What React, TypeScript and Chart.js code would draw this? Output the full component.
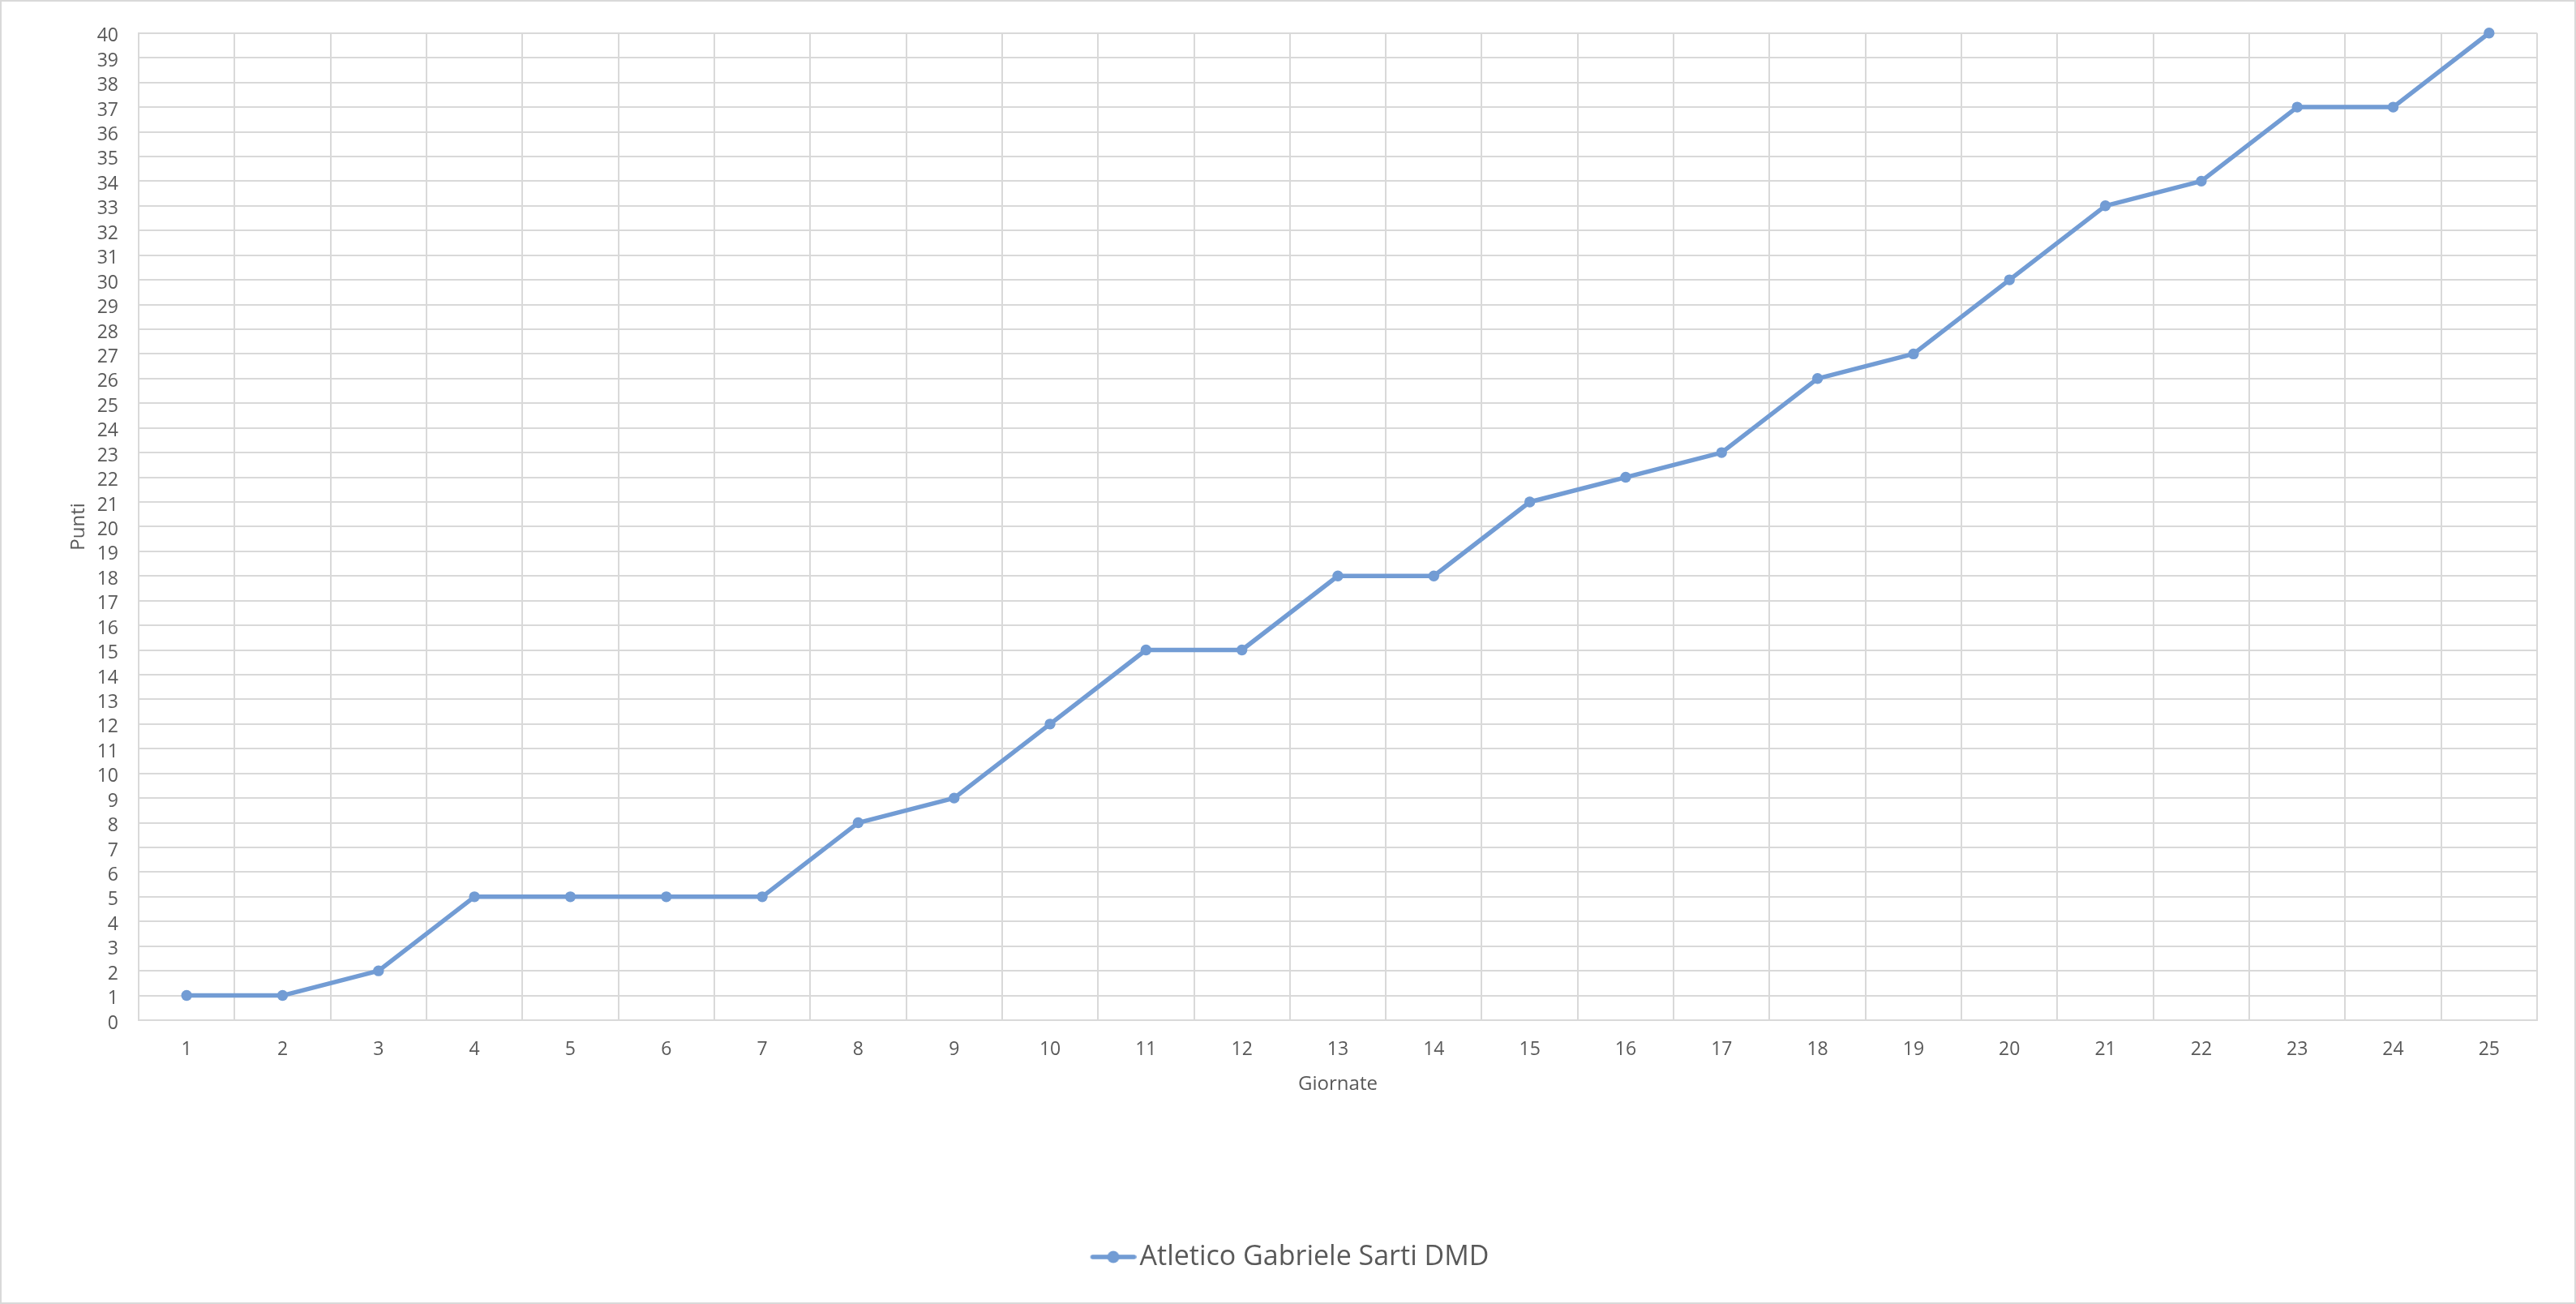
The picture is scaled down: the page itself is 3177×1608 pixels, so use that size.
import React, { useEffect, useRef } from "react";
import { Chart, registerables } from "chart.js";

Chart.register(...registerables);

const giornate: string[] = [
  "1", "2", "3", "4", "5", "6", "7", "8", "9", "10", "11", "12", "13",
  "14", "15", "16", "17", "18", "19", "20", "21", "22", "23", "24", "25",
];
const punti: number[] = [
  1, 1, 2, 5, 5, 5, 5, 8, 9, 12, 15, 15, 18, 18, 21, 22, 23, 26, 27, 30, 33, 34, 37, 37, 40,
];
const seriesName = "Atletico Gabriele Sarti DMD";
const xTitle = "Giornate";
const yTitle = "Punti";
const yMin = 0;
const yMax = 40;
const yStep = 1;

const LINE_COLOR = "rgb(114,156,212)";
const GRID_COLOR = "#d9d9d9";
const TEXT_COLOR = "#595959";
const FONT = "'Open Sans', 'DejaVu Sans', sans-serif";

const LEGEND_BOX_W = 94;

function makeLegendIcon(): HTMLCanvasElement {
  const wi = LEGEND_BOX_W + 26;
  const c = document.createElement("canvas");
  c.width = wi;
  c.height = 18;
  const g = c.getContext("2d")!;
  const x0 = wi - 57;
  const x1 = wi;
  g.strokeStyle = LINE_COLOR;
  g.lineWidth = 5.5;
  g.lineCap = "round";
  g.beginPath();
  g.moveTo(x0 + 3, 9);
  g.lineTo(x1 - 3, 9);
  g.stroke();
  g.fillStyle = LINE_COLOR;
  g.beginPath();
  g.arc((x0 + x1) / 2, 9, 7.5, 0, Math.PI * 2);
  g.fill();
  return c;
}

export default function App() {
  const ref = useRef<HTMLCanvasElement | null>(null);

  useEffect(() => {
    document.body.style.margin = "0";
    if (!ref.current) return;
    const icon = makeLegendIcon();
    const chart = new Chart(ref.current, {
      type: "line",
      data: {
        labels: giornate,
        datasets: [
          {
            label: seriesName,
            data: punti,
            borderColor: LINE_COLOR,
            backgroundColor: LINE_COLOR,
            borderWidth: 5.5,
            pointRadius: 6.7,
            pointHoverRadius: 6.7,
            pointBorderWidth: 0,
            pointBackgroundColor: LINE_COLOR,
            tension: 0,
            fill: false,
            clip: false as any,
            borderJoinStyle: "round",
            borderCapStyle: "round",
          },
        ],
      },
      options: {
        animation: false,
        responsive: false,
        maintainAspectRatio: false,
        layout: { padding: { top: 35, right: 46, left: 0, bottom: 29 } },
        plugins: {
          tooltip: { enabled: false },
          legend: {
            position: "bottom",
            labels: {
              usePointStyle: true,
              pointStyle: icon as any,
              pointStyleWidth: LEGEND_BOX_W,
              padding: 10,
              color: TEXT_COLOR,
              font: { family: FONT, size: 34 },
            },
          },
        },
        scales: {
          x: {
            type: "category",
            offset: true,
            grid: {
              offset: true,
              color: GRID_COLOR,
              lineWidth: 2,
              drawTicks: false,
            },
            border: { color: GRID_COLOR, width: 2 },
            ticks: {
              color: TEXT_COLOR,
              font: { family: FONT, size: 23 },
              padding: 23,
              autoSkip: false,
              maxRotation: 0,
            },
            title: {
              display: true,
              text: xTitle,
              color: TEXT_COLOR,
              font: { family: FONT, size: 24 },
              padding: { top: 0, bottom: 171 },
            },
            afterFit: (s: any) => {
              s.height = 265;
            },
          },
          y: {
            min: yMin,
            max: yMax,
            grid: {
              color: GRID_COLOR,
              lineWidth: 2,
              drawTicks: false,
            },
            border: { color: GRID_COLOR, width: 2 },
            ticks: {
              stepSize: yStep,
              autoSkip: false,
              color: TEXT_COLOR,
              font: { family: FONT, size: 23 },
              padding: 25,
              labelOffset: 4,
            },
            title: {
              display: true,
              text: yTitle,
              color: TEXT_COLOR,
              font: { family: FONT, size: 24 },
              padding: { top: 81, bottom: 0 },
            },
            afterFit: (s: any) => {
              s.width = 169;
            },
          },
        },
      },
    });
    return () => chart.destroy();
  }, []);

  return (
    <div
      style={{
        position: "fixed",
        left: 0,
        top: 0,
        width: 3177,
        height: 1608,
        boxSizing: "border-box",
        border: `2px solid ${GRID_COLOR}`,
        background: "#ffffff",
      }}
    >
      <canvas ref={ref} width={3173} height={1604} style={{ display: "block" }} />
    </div>
  );
}
